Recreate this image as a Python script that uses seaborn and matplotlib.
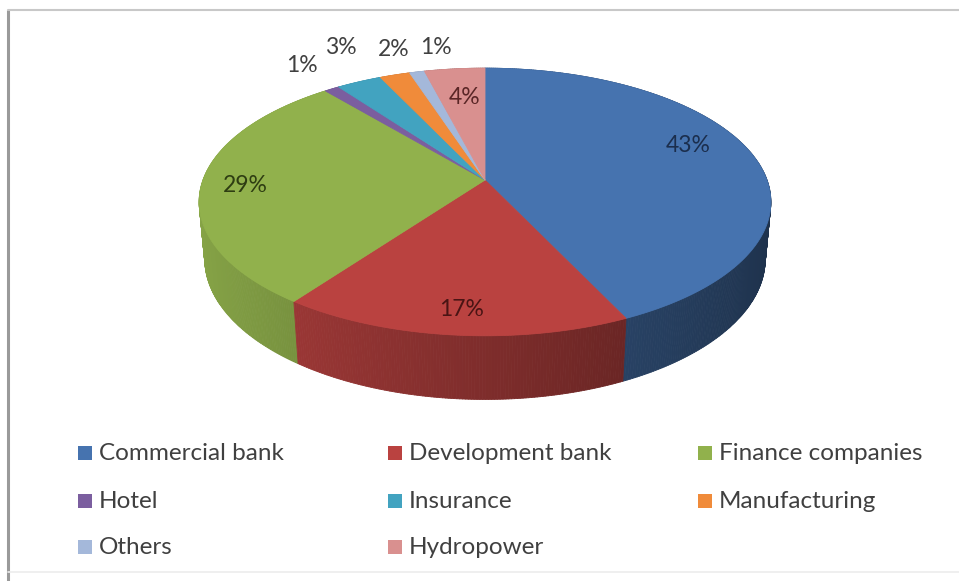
import numpy as np
import matplotlib
matplotlib.use("Agg")
import matplotlib.pyplot as plt
import seaborn as sns
from matplotlib.collections import PolyCollection
from matplotlib.colors import to_rgb

# Share of listed companies by sector (%)
sectors = ["Commercial bank", "Development bank", "Finance companies", "Hotel",
           "Insurance", "Manufacturing", "Others", "Hydropower"]
shares = [43, 17, 29, 1, 3, 2, 1, 4]

sns.set_theme(style="white")
plt.rcParams["font.family"] = ["Lato", "DejaVu Sans"]

palette = sns.color_palette(["#4673AF", "#BA4240", "#91B14C", "#7B5E9F",
                             "#42A3C0", "#F08B3A", "#A4B8DA", "#D9908F"])
label_colors = ["#1B2E4D", "#4A1414", "#2E3D12", "#404040",
                "#404040", "#404040", "#404040", "#5A2626"]
label_pos = [(688, 145), (462, 310), (245, 185), (302, 65),
             (341, 48), (394, 50), (436, 48), (465, 97)]

# perspective view of a tilted disc (units of the pie radius)
CX, CY, SCALE = 485, 180, 282
K = 0.185                      # radius / camera distance
PHI = np.radians(27.5)         # tilt
DEPTH = 0.23                   # thickness of the pie


def project(theta, y):
    X = np.cos(theta)
    Z = np.sin(theta)
    yp = Z * np.sin(PHI) + y * np.cos(PHI)
    zp = Z * np.cos(PHI) - y * np.sin(PHI)
    d = 1 + K * zp
    return CX + SCALE * X / d, CY - SCALE * yp / d, zp


fig = plt.figure(figsize=(9.59, 5.81), dpi=100)
ax = fig.add_axes([0, 0, 1, 1])
ax.set_xlim(0, 959)
ax.set_ylim(581, 0)
ax.axis("off")

fracs = np.array(shares, dtype=float) / np.sum(shares)
ends = np.radians(90) - 2 * np.pi * np.cumsum(fracs)
starts = np.concatenate([[np.radians(90)], ends[:-1]])

# side walls: thin quads, shaded by direction, drawn far to near
quads, qcols, qdepth = [], [], []
for i, (a0, a1) in enumerate(zip(starts, ends)):
    n = max(2, int(abs(a0 - a1) / np.radians(0.5)))
    th = np.linspace(a0, a1, n + 1)
    base = np.array(to_rgb(palette[i]))
    for t0, t1 in zip(th[:-1], th[1:]):
        x0, y0, z0 = project(t0, 0)
        x1, y1, z1 = project(t1, 0)
        x2, y2, _ = project(t1, -DEPTH)
        x3, y3, _ = project(t0, -DEPTH)
        tm = 0.5 * (t0 + t1)
        shade = 0.68 - 0.25 * np.cos(tm)
        quads.append([(x0, y0), (x1, y1), (x2, y2), (x3, y3)])
        qcols.append(np.clip(base * shade, 0, 1))
        qdepth.append(0.5 * (z0 + z1))
order = np.argsort(qdepth)[::-1]
ax.add_collection(PolyCollection([quads[j] for j in order],
                                 facecolors=[qcols[j] for j in order],
                                 edgecolors=[qcols[j] for j in order],
                                 linewidths=0.6))

# top face
tops = []
for i, (a0, a1) in enumerate(zip(starts, ends)):
    th = np.linspace(a0, a1, max(3, int(abs(a0 - a1) / np.radians(0.5))))
    xs, ys, _ = project(th, 0)
    tops.append([(CX, CY)] + list(zip(xs, ys)))
ax.add_collection(PolyCollection(tops, facecolors=palette, edgecolors=palette,
                                 linewidths=0.6))

# percentage labels
for v, (lx, ly), c in zip(shares, label_pos, label_colors):
    ax.text(lx, ly, f"{v}%", ha="center", va="center", fontsize=16.5, color=c)

# legend, three per row
leg_x = [78, 388, 698]
leg_y = [453, 501, 547]
for i, name in enumerate(sectors):
    r, c = divmod(i, 3)
    ax.scatter([leg_x[c] + 7], [leg_y[r]], marker="s", s=90,
               color=palette[i], linewidths=0)
    ax.text(leg_x[c] + 21, leg_y[r], name, ha="left", va="center",
            fontsize=17.5, color="#404040")

# chart frame
ax.plot([8, 8], [10, 581], color="#9A9A9A", lw=2.2, solid_capstyle="butt")
ax.plot([8, 959], [10, 10], color="#C8C8C8", lw=1.5)
ax.plot([8, 959], [572, 572], color="#ECECEC", lw=1.2)

fig.savefig("out.png", dpi=100)
